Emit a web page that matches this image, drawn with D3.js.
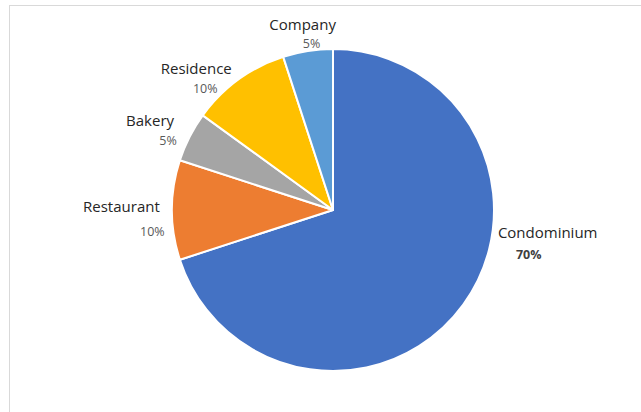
<!DOCTYPE html>
<html>
<head>
<meta charset="utf-8">
<script src="https://cdn.jsdelivr.net/npm/d3@7"></script>
<style>
  body { margin: 0; background: #fff; }
  svg { display: block; }
</style>
</head>
<body>
<div class="pie"></div>
<script>
var categories = ["Condominium", "Restaurant", "Bakery", "Residence", "Company"]
var shares = [70, 10, 5, 10, 5]
var valueLabels = ["70%", "10%", "5%", "10%", "5%"]
var colors = ["#4472c4", "#ed7d31", "#a5a5a5", "#ffc000", "#5b9bd5"]

// label placement nudges (excel "best fit" moves labels off the mid angle)
var labelLayout = {
    Condominium: {shift: -26, dist: 218, gap: 21, vdx: -19, bold: true},
    Restaurant: {shift: -3.5, dist: 212, gap: 24, vdx: 31},
    Bakery: {shift: -4.5, dist: 198, gap: 19, vdx: 18},
    Residence: {shift: -11, dist: 187, gap: 19, vdx: 9},
    Company: {shift: -1, dist: 175, gap: 18, vdx: 9}
}

var width = 641, height = 412
var cx = 333, cy = 210, radius = 161

var svg = d3.select(".pie")
    .append("svg")
        .attr("width", width)
        .attr("height", height)

// chart frame
svg.append("rect")
    .attr("x", 9.5)
    .attr("y", 5.5)
    .attr("width", width)
    .attr("height", height)
    .style("fill", "none")
    .style("stroke", "#d9d9d9")

var data = categories.map((c, i) => ({name: c, value: shares[i], label: valueLabels[i], color: colors[i]}))

var pie = d3.pie().sort(null).value(d => d.value)
var arc = d3.arc().innerRadius(0).outerRadius(radius)

var g = svg.append("g")
    .attr("transform", "translate(" + cx + "," + cy + ")")

var arcs = pie(data)

g.selectAll(".slice")
    .data(arcs)
    .enter().append("path")
    .attr("class", "slice")
    .attr("d", arc)
    .style("fill", d => d.data.color)
    .style("stroke", "#fff")
    .style("stroke-width", 2)
    .style("stroke-linejoin", "round")

var labels = g.selectAll(".lbl")
    .data(arcs)
    .enter().append("g")
    .attr("class", "lbl")
    .attr("transform", d => {
        var lay = labelLayout[d.data.name]
        var a = (d.startAngle + d.endAngle) / 2 + lay.shift * Math.PI / 180
        return "translate(" + (Math.sin(a) * lay.dist) + "," + (-Math.cos(a) * lay.dist) + ")"
    })

labels.append("text")
    .attr("y", d => -labelLayout[d.data.name].gap / 2 + 1)
    .style("text-anchor", "middle")
    .style("font-family", "'Open Sans', sans-serif")
    .style("font-size", "15px")
    .style("fill", "#262626")
    .text(d => d.data.name)

labels.append("text")
    .attr("x", d => labelLayout[d.data.name].vdx)
    .attr("y", d => labelLayout[d.data.name].gap / 2 + 1)
    .style("text-anchor", "middle")
    .style("font-family", "'Open Sans', sans-serif")
    .style("font-size", "12.5px")
    .style("font-weight", d => labelLayout[d.data.name].bold ? "bold" : "normal")
    .style("fill", d => labelLayout[d.data.name].bold ? "#404040" : "#595959")
    .text(d => d.data.label)
</script>
</body>
</html>
